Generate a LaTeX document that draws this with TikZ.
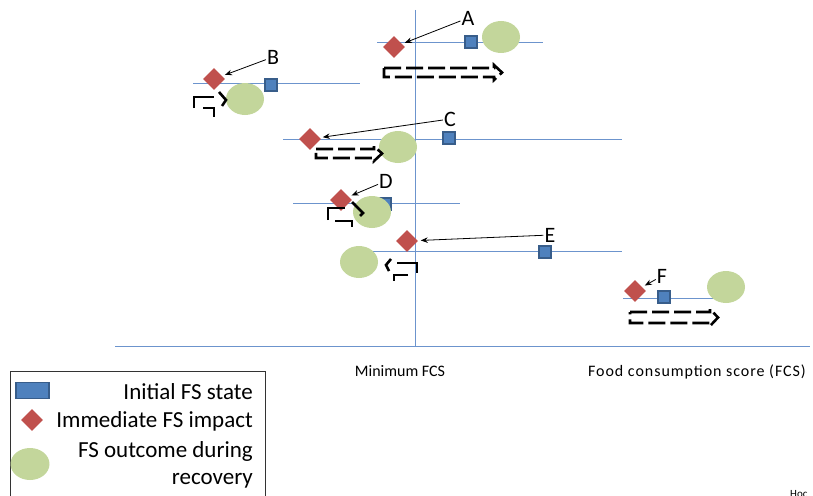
\documentclass[tikz,border=0pt]{standalone}
\usepackage{fontspec}
\setmainfont{Carlito}
\usetikzlibrary{arrows.meta,shapes.geometric}
\definecolor{sqfill}{HTML}{4F81BD}
\definecolor{sqdraw}{HTML}{385D8A}
\definecolor{diared}{HTML}{C0504D}
\definecolor{ellgreen}{HTML}{C3D69B}
\definecolor{axblue}{HTML}{6C94CD}
\newcommand\fsblock[4]{%
  \draw[fsdash] (#1,#3) -- ({#2-8},#3) -- ({#2-8},{#3-3}) -- (#2,{(#3+#4)/2}) -- ({#2-8},{#4+3}) -- ({#2-8},#4) -- (#1,#4) -- cycle;}
\begin{document}
\begin{tikzpicture}[x=1pt,y=-1pt,
  axisline/.style={draw=axblue, line width=1pt},
  sq/.style={draw=sqdraw, fill=sqfill, line width=1.2pt, minimum size=12pt, inner sep=0pt, shape=rectangle},
  dia/.style={fill=diared, shape=diamond, minimum size=22pt, inner sep=0pt},
  ell/.style={fill=ellgreen, shape=ellipse, minimum width=38pt, minimum height=32pt, inner sep=0pt},
  lab/.style={font=\fontsize{22}{26}\selectfont, inner sep=1pt},
  ptr/.style={-{Stealth[length=7pt,width=5.5pt]}, line width=0.8pt, shorten >=3pt},
  fsdash/.style={draw=black, line width=2.6pt, dash pattern=on 17pt off 5pt},
  bent/.style={draw=black, line width=2.6pt},
  axlab/.style={font=\fontsize{16}{19}\selectfont, anchor=base, inner sep=0pt},
  legtext/.style={font=\fontsize{23}{27}\selectfont, anchor=base east, inner sep=0pt}
]
\useasboundingbox (0,0) rectangle (813,495);

% axes
\coordinate (vtop) at (415,10);
\coordinate (vbot) at (415,346);
\coordinate (hl) at (115,346);
\coordinate (hr) at (810,346);
\draw[axisline] (vtop) -- (vbot);
\draw[axisline] (hl) -- (hr);
\node[axlab] (minfcs) at (400,376) {Minimum FCS};
\node[axlab, font=\fontsize{16}{19}\selectfont\addfontfeatures{LetterSpace=6}] (fcs) at (697,376) {Food consumption score (FCS)};

% row lines
\coordinate (a1) at (377,43); \coordinate (a2) at (543,43);
\coordinate (b1) at (193,83); \coordinate (b2) at (360,83);
\coordinate (c1) at (283,139); \coordinate (c2) at (622,139);
\coordinate (d1) at (293,203); \coordinate (d2) at (460,203);
\coordinate (e1) at (373,251); \coordinate (e2) at (622,251);
\coordinate (f1) at (623,298); \coordinate (f2) at (713,298);
\foreach \p in {a,b,c,d,e,f} \draw[axisline] (\p1) -- (\p2);

% squares
\node[sq] (sA) at (471,42) {};
\node[sq] (sB) at (271,85) {};
\node[sq] (sC) at (449,138) {};
\node[sq] (sD) at (385,204) {};
\node[sq] (sE) at (545,252) {};
\node[sq] (sF) at (664,297) {};

% diamonds
\node[dia] (dA) at (394,47) {};
\node[dia] (dB) at (214,79) {};
\node[dia] (dC) at (310,139) {};
\node[dia] (dD) at (341,200) {};
\node[dia] (dE) at (407,241) {};
\node[dia] (dF) at (635,291) {};

% ellipses
\node[ell] (eA) at (501,37) {};
\node[ell] (eB) at (245,99) {};
\node[ell] (eC) at (398,147) {};
\node[ell] (eD) at (372,212) {};
\node[ell] (eE) at (359,262) {};
\node[ell] (eF) at (726,287) {};

% labels and pointers
\node[lab] (lA) at (468,18) {A};
\node[lab] (lB) at (273,57) {B};
\node[lab] (lC) at (450,119) {C};
\node[lab] (lD) at (386,181) {D};
\node[lab] (lE) at (550,235) {E};
\node[lab] (lF) at (662,276) {F};
\foreach \p in {A,B,C,D,E,F} \draw[ptr] (l\p) -- (d\p);

% dashed block arrows
\fsblock{384}{502}{68}{77}
\fsblock{316}{382}{149}{158}
\fsblock{630}{718}{312}{323}

% bent arrows
\draw[bent] (194,108) -- (194,97) -- (214,97);
\draw[bent] (203,108) -- (214,108) -- (214,117);
\draw[bent] (219,92) -- (226,100) -- (222,106);

\draw[bent] (328,220) -- (328,208) -- (345,208);
\draw[bent] (335,221) -- (352,221) -- (352,227);
\draw[bent] (352,202) -- (363,213) -- (360,216);

\draw[bent] (397,263) -- (417,263) -- (417,273);
\draw[bent] (408,275) -- (394,275) -- (394,281);
\draw[bent] (391,259) -- (386,265) -- (389,271);

% legend
\draw[line width=0.8pt, draw=black!80] (10,510) -- (10,371) -- (265,371) -- (265,510);
\node[sq, minimum width=33pt, minimum height=16pt] (legsq) at (32.5,390.5) {};
\node[dia] (legdia) at (32,420) {};
\node[ell, minimum width=39pt] (legell) at (30,464) {};
\node[legtext] (t1) at (253,399) {Initial FS state};
\node[legtext] (t2) at (253,427) {Immediate FS impact};
\node[legtext] (t3) at (253,457) {FS outcome during};
\node[legtext] (t4) at (253,484) {recovery};

\node[font=\fontsize{11}{13}\selectfont, anchor=base west, inner sep=0pt] (hoc) at (790,497) {Hoc};
\end{tikzpicture}
\end{document}
